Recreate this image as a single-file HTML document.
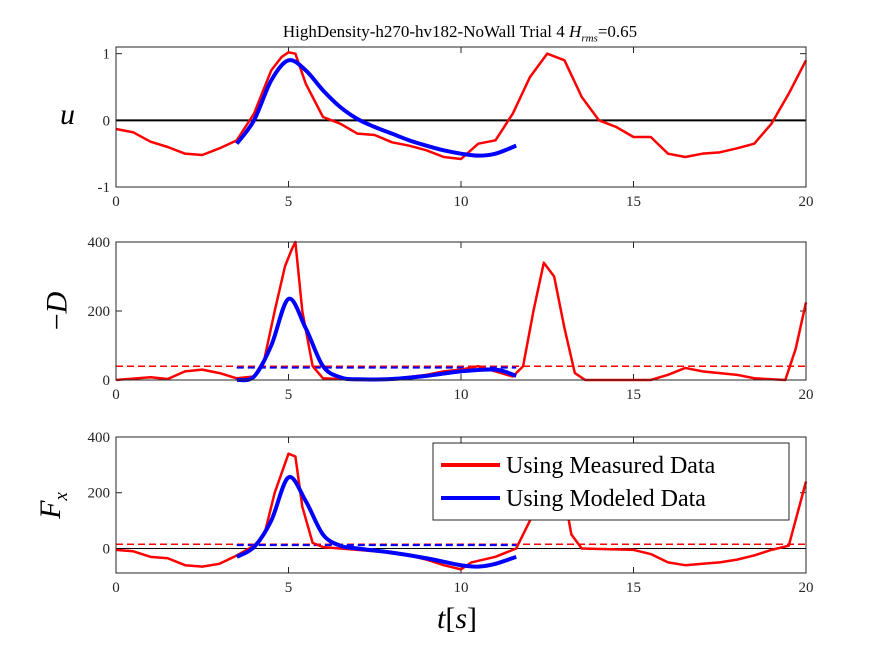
<!DOCTYPE html>
<html><head><meta charset="utf-8"><style>
body{margin:0;background:#fff;}
svg text{font-family:"Liberation Serif",serif;}
body>div{position:absolute;}
</style></head><body>
<svg id="c" width="891" height="645" xmlns="http://www.w3.org/2000/svg"></svg>
<script>
const uMeasT=[0,0.5,1,1.5,2,2.5,3,3.5,4,4.5,4.8,5,5.2,5.5,6,6.5,7,7.5,8,8.5,9,9.5,10,10.5,11,11.5,12,12.5,13,13.5,14,14.5,15,15.5,16,16.5,17,17.5,18,18.5,19,19.5,20];
const uMeasV=[-0.13,-0.18,-0.32,-0.4,-0.5,-0.52,-0.42,-0.3,0.1,0.75,0.95,1.02,1.0,0.55,0.05,-0.05,-0.2,-0.22,-0.33,-0.38,-0.45,-0.55,-0.58,-0.35,-0.3,0.1,0.65,1.0,0.9,0.35,0.0,-0.1,-0.25,-0.25,-0.5,-0.55,-0.5,-0.48,-0.42,-0.35,-0.05,0.4,0.9];
const uModT=[3.5,4,4.5,5,5.5,6,6.5,7,7.5,8,8.5,9,9.5,10,10.5,11,11.6];
const uModV=[-0.35,0.0,0.6,0.9,0.75,0.45,0.2,0.02,-0.1,-0.2,-0.3,-0.38,-0.45,-0.5,-0.53,-0.5,-0.38];
const dMeasT=[0,1,1.5,2,2.5,3,3.5,4,4.3,4.6,4.9,5.1,5.2,5.4,5.7,6,7,8,9,9.5,10,10.5,11,11.5,11.8,12.1,12.4,12.7,13,13.3,13.6,15.5,16,16.5,17,17.5,18,18.5,19.4,19.7,20];
const dMeasV=[0,8,3,25,30,20,5,10,60,200,330,380,400,200,40,5,0,3,15,25,30,40,25,10,40,200,340,300,150,20,0,0,15,35,25,20,15,5,0,90,225];
const dModT=[3.5,4,4.5,5,5.5,6,6.5,7,8,9,10,11,11.6];
const dModV=[0,10,100,235,150,40,8,2,3,12,25,30,12];
const dMeanMeas=40, dMeanMod=36;
const fMeasT=[0,0.5,1,1.5,2,2.5,3,3.5,4,4.3,4.6,5,5.2,5.4,5.7,6,7,8,8.5,9,9.5,10,10.3,11,11.6,12,12.4,12.8,13.2,13.5,15,15.5,16,16.5,17,17.5,18,18.5,19,19.5,20];
const fMeasV=[-5,-10,-30,-35,-60,-65,-55,-25,10,50,200,340,330,150,20,5,-5,-15,-25,-40,-60,-75,-50,-30,0,100,300,320,50,0,-5,-20,-50,-60,-55,-50,-40,-25,-5,10,240];
const fModT=[3.5,4,4.5,5,5.5,6,6.5,7,8,9,10,10.5,11,11.6];
const fModV=[-30,5,100,255,170,50,10,0,-15,-35,-60,-65,-55,-30];
const fMeanMeas=15, fMeanMod=12;
const xTicks=[0,5,10,15,20];

const svg=document.getElementById('c');
const NS='http://www.w3.org/2000/svg';
function el(tag,attrs,parent){const e=document.createElementNS(NS,tag);for(const k in attrs)e.setAttribute(k,attrs[k]);(parent||svg).appendChild(e);return e;}
const X0=116,X1=806;
const sx=t=>X0+(t-0)/(20-0)*(X1-X0);
function panel(name,top,bot,ymin,ymax,yTicks,yTickLbl){
  const g=el('g',{});
  
  
  const sy=v=>bot-(v-ymin)/(ymax-ymin)*(bot-top);
  el('rect',{x:X0,y:top,width:X1-X0,height:bot-top,fill:'#fff',stroke:'none'},g);
  xTicks.forEach(t=>{
    el('line',{x1:sx(t),x2:sx(t),y1:bot,y2:bot-6,stroke:'#262626','stroke-width':1},g);
    el('line',{x1:sx(t),x2:sx(t),y1:top,y2:top+6,stroke:'#262626','stroke-width':1},g);
    const tx=el('text',{x:sx(t),y:bot+19,'text-anchor':'middle','font-size':15,fill:'#262626'},g);
    tx.textContent=t;
    
    
  });
  yTicks.forEach((v,i)=>{
    el('line',{x1:X0,x2:X0+6,y1:sy(v),y2:sy(v),stroke:'#262626','stroke-width':1},g);
    el('line',{x1:X1,x2:X1-6,y1:sy(v),y2:sy(v),stroke:'#262626','stroke-width':1},g);
    const tx=el('text',{x:X0-6,y:sy(v)+5,'text-anchor':'end','font-size':15,fill:'#262626'},g);
    tx.textContent=yTickLbl[i];
    
    
  });
  return {g,sy};
}
function line(g,sy,T,V,color,w,nm){
  const p=el('polyline',{points:T.map((t,i)=>sx(t)+','+sy(V[i])).join(' '),fill:'none',stroke:color,'stroke-width':w,'stroke-linejoin':'round'},g);
  
  
}
function smooth(g,sy,T,V,color,w,nm){
  const P=T.map((t,i)=>[sx(t),sy(V[i])]);
  let d='M'+P[0][0]+','+P[0][1];
  for(let i=0;i<P.length-1;i++){
    const p0=P[Math.max(0,i-1)],p1=P[i],p2=P[i+1],p3=P[Math.min(P.length-1,i+2)];
    const c1=[p1[0]+(p2[0]-p0[0])/6,p1[1]+(p2[1]-p0[1])/6];
    const c2=[p2[0]-(p3[0]-p1[0])/6,p2[1]-(p3[1]-p1[1])/6];
    d+=' C'+c1+' '+c2+' '+p2;
  }
  const p=el('path',{d:d,fill:'none',stroke:color,'stroke-width':w,'stroke-linejoin':'round'},g);
  
  
}
function hline(g,sy,v,a,b,color,w,dash,nm){
  const l=el('line',{x1:sx(a),x2:sx(b),y1:sy(v),y2:sy(v),stroke:color,'stroke-width':w},g);
  if(dash)l.setAttribute('stroke-dasharray',dash);
  
  
}
function frame(g,top,bot){el('rect',{x:X0,y:top,width:X1-X0,height:bot-top,fill:'none',stroke:'#262626','stroke-width':1},g);}

let p=panel('u-panel',47,187,-1,1.1,[-1,0,1],['-1','0','1']);
hline(p.g,p.sy,0,0,20,'#000',2,null,'zero-line');
line(p.g,p.sy,uMeasT,uMeasV,'#f00',2.5,'u-measured-line');
smooth(p.g,p.sy,uModT,uModV,'#00f',4,'u-modeled-line');
frame(p.g,47,187);
p=panel('drag-panel',242,380,0,400,[0,200,400],['0','200','400']);
hline(p.g,p.sy,dMeanMeas,0,20,'#f00',1.5,'7,4','d-measured-mean');
hline(p.g,p.sy,dMeanMod,3.5,11.6,'#00f',2,'7,4','d-modeled-mean');
line(p.g,p.sy,dMeasT,dMeasV,'#f00',2.5,'d-measured-line');
smooth(p.g,p.sy,dModT,dModV,'#00f',4,'d-modeled-line');
frame(p.g,242,380);
p=panel('fx-panel',437,573,-88,400,[0,200,400],['0','200','400']);
hline(p.g,p.sy,0,0,20,'#000',1,null,'fx-zero-line');
hline(p.g,p.sy,fMeanMeas,0,20,'#f00',1.5,'7,4','fx-measured-mean');
hline(p.g,p.sy,fMeanMod,3.5,11.6,'#00f',2,'7,4','fx-modeled-mean');
line(p.g,p.sy,fMeasT,fMeasV,'#f00',2.5,'fx-measured-line');
smooth(p.g,p.sy,fModT,fModV,'#00f',4,'fx-modeled-line');
frame(p.g,437,573);

const lg=el('g',{});


el('rect',{x:433,y:443,width:356,height:77,fill:'#fff',stroke:'#262626','stroke-width':1},lg);
el('line',{x1:441,x2:500,y1:465,y2:465,stroke:'#f00','stroke-width':4},lg);
el('line',{x1:441,x2:500,y1:498,y2:498,stroke:'#00f','stroke-width':4},lg);
let t=el('text',{x:506,y:473,'font-size':24,fill:'#000'},lg);t.textContent='Using Measured Data';


t=el('text',{x:506,y:506,'font-size':24,fill:'#000'},lg);t.textContent='Using Modeled Data';


</script>
<div style="left:0;top:22px;width:920px;text-align:center;font:17px 'Liberation Serif',serif;color:#000">HighDensity-h270-hv182-NoWall Trial 4 <i>H</i><sub style="font-size:11px"><i>rms</i></sub>=0.65</div>
<div style="left:60px;top:98px;font:italic 30px 'Liberation Serif',serif;">u</div>
<div style="left:38px;top:294px;transform:rotate(-90deg);font:30px 'Liberation Serif',serif;">−<i>D</i></div>
<div style="left:40px;top:486px;transform:rotate(-90deg);font:italic 30px 'Liberation Serif',serif;">F<sub style="font-size:19px">x</sub></div>
<div style="left:437px;top:602px;font:30px 'Liberation Serif',serif;"><i>t</i>[<i>s</i>]</div>
</body></html>
